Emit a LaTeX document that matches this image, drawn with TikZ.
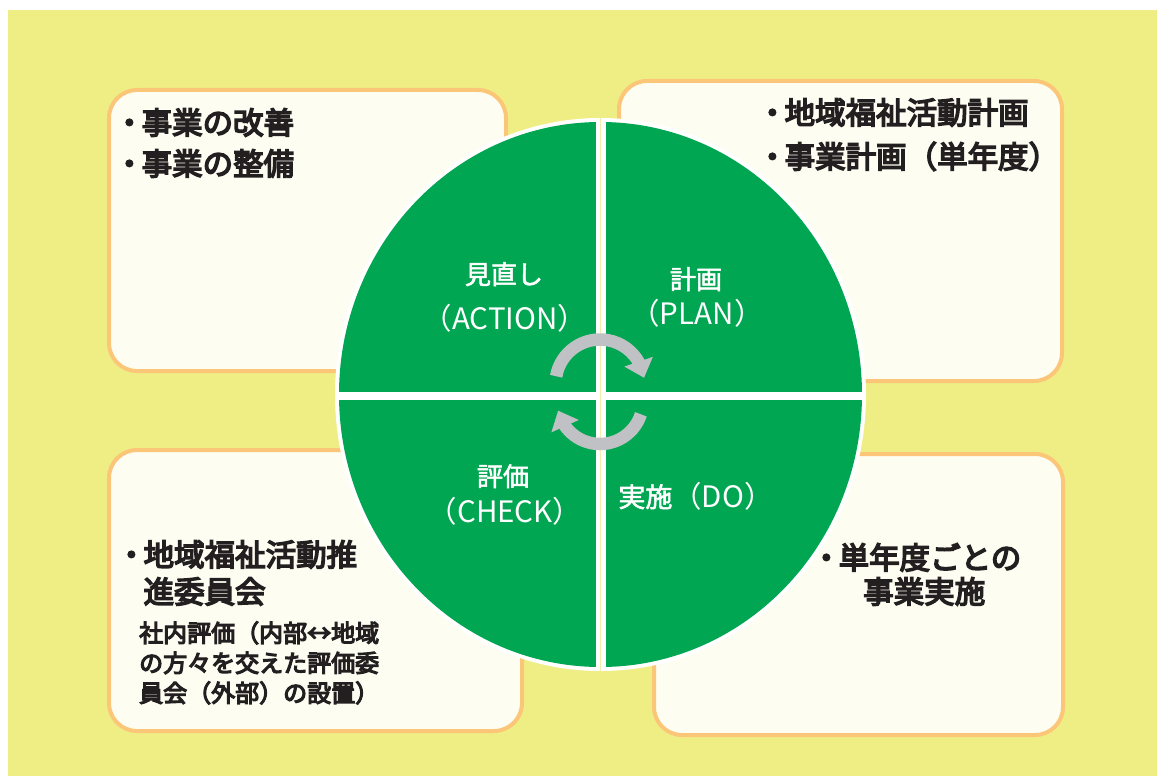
\documentclass[tikz,border=0pt]{standalone}
\usepackage{fontspec}
\setmainfont{Noto Sans CJK JP}
\newfontfamily\medjp{Noto Sans CJK JP}[FakeBold=5]
\newfontfamily\lightbold{Noto Sans CJK JP}[FakeBold=2]
\usetikzlibrary{arrows.meta,bending}
\definecolor{bgyellow}{RGB}{239,238,132}
\definecolor{boxline}{RGB}{252,198,120}
\definecolor{boxfill}{RGB}{253,253,242}
\definecolor{pdcagreen}{RGB}{0,166,81}
\definecolor{cyclegray}{RGB}{192,193,197}
\definecolor{inkdark}{RGB}{35,31,32}
\definecolor{gapline}{RGB}{240,238,170}
\newcommand{\bul}{\makebox[0.8em][c]{・}}
\begin{document}
\begin{tikzpicture}[x=1pt,y=-1pt,
  infobox/.style={draw=boxline, line width=4pt, fill=boxfill, rounded corners=28pt, inner sep=0pt},
  boxtext/.style={anchor=base west, inner sep=0pt, text=inkdark, font=\medjp\fontsize{30.5}{35}\selectfont},
  smalltext/.style={anchor=base west, inner sep=0pt, text=inkdark, font=\medjp\fontsize{24}{28}\selectfont},
  quadkanji/.style={anchor=base, inner sep=0pt, text=white, font=\lightbold\fontsize{26}{32}\selectfont},
  quadlatin/.style={anchor=base, inner sep=0pt, text=white, font=\fontsize{29.5}{32}\selectfont},
  cycarrow/.style={draw=cyclegray, line width=12.5pt, -{Triangle[width=29pt,length=17pt]}}
]
\useasboundingbox (0,0) rectangle (1157,776);
\fill[white] (0,0) rectangle (1157,776);
\fill[bgyellow] (8,10) rectangle (1157,776);

% info boxes
\node[infobox, minimum width=397pt, minimum height=281pt] (tlbox) at (307.5,230.5) {};
\node[infobox, minimum width=443pt, minimum height=300pt] (trbox) at (840.5,231) {};
\node[infobox, minimum width=413pt, minimum height=281pt] (blbox) at (315.5,590.5) {};
\node[infobox, minimum width=409pt, minimum height=281pt] (brbox) at (858.5,594.5) {};

% box texts
\node[boxtext] (tl1) at (117,134) {\bul 事業の改善};
\node[boxtext] (tl2) at (117,175) {\bul 事業の整備};
\node[boxtext] (tr1) at (760,124) {\bul 地域福祉活動計画};
\node[boxtext] (tr2) at (760,168) {\bul 事業計画（単年度）};
\node[boxtext] (bl1) at (119,566) {\bul 地域福祉活動推};
\node[boxtext] (bl2) at (119,603) {\hphantom{\bul}進委員会};
\node[smalltext] (bl3) at (139,642) {社内評価（内部↔地域};
\node[smalltext] (bl4) at (139,672) {の方々を交えた評価委};
\node[smalltext] (bl5) at (139,702) {員会（外部）の設置）};
\node[boxtext] (br1) at (814,569) {\bul 単年度ごとの};
\node[boxtext] (br2) at (863,603) {事業実施};

% PDCA ellipse
\coordinate (pdca) at (600.5,394.5);
\fill[white] (pdca) ellipse [x radius=265.5pt, y radius=276.5pt];
\fill[pdcagreen] (pdca) ellipse [x radius=261.5pt, y radius=272.5pt];
\begin{scope}
  \clip (pdca) ellipse [x radius=265.5pt, y radius=276.5pt];
  \fill[white] (330,391.5) rectangle (870,399.5);
  \fill[white] (595.5,110) rectangle (605.5,680);
  \fill[gapline] (600.1,110) rectangle (600.9,680);
\end{scope}

% quadrant labels
\node[quadkanji] (actj) at (504,284) {見直し};
\node[quadlatin] (acte) at (505,329) {（ACTION）};
\node[quadkanji] (planj) at (696,289) {計画};
\node[quadlatin] (plane) at (697,324) {（PLAN）};
\node[quadkanji] (chkj) at (503,486) {評価};
\node[quadlatin] (chke) at (505,522) {（CHECK）};
\node[quadlatin] (doe) at (696,507) {{\lightbold\fontsize{27}{32}\selectfont 実施}（DO）};

% cycle arrows
\coordinate (topc) at (600,384);
\coordinate (botc) at (600,401);
\draw[cycarrow] ([shift={(170:44.5pt)}]topc) arc[start angle=170, end angle=8, radius=44.5pt];
\draw[cycarrow] ([shift={(-18:43pt)}]botc) arc[start angle=-18, end angle=-167, radius=43pt];
\end{tikzpicture}
\end{document}
